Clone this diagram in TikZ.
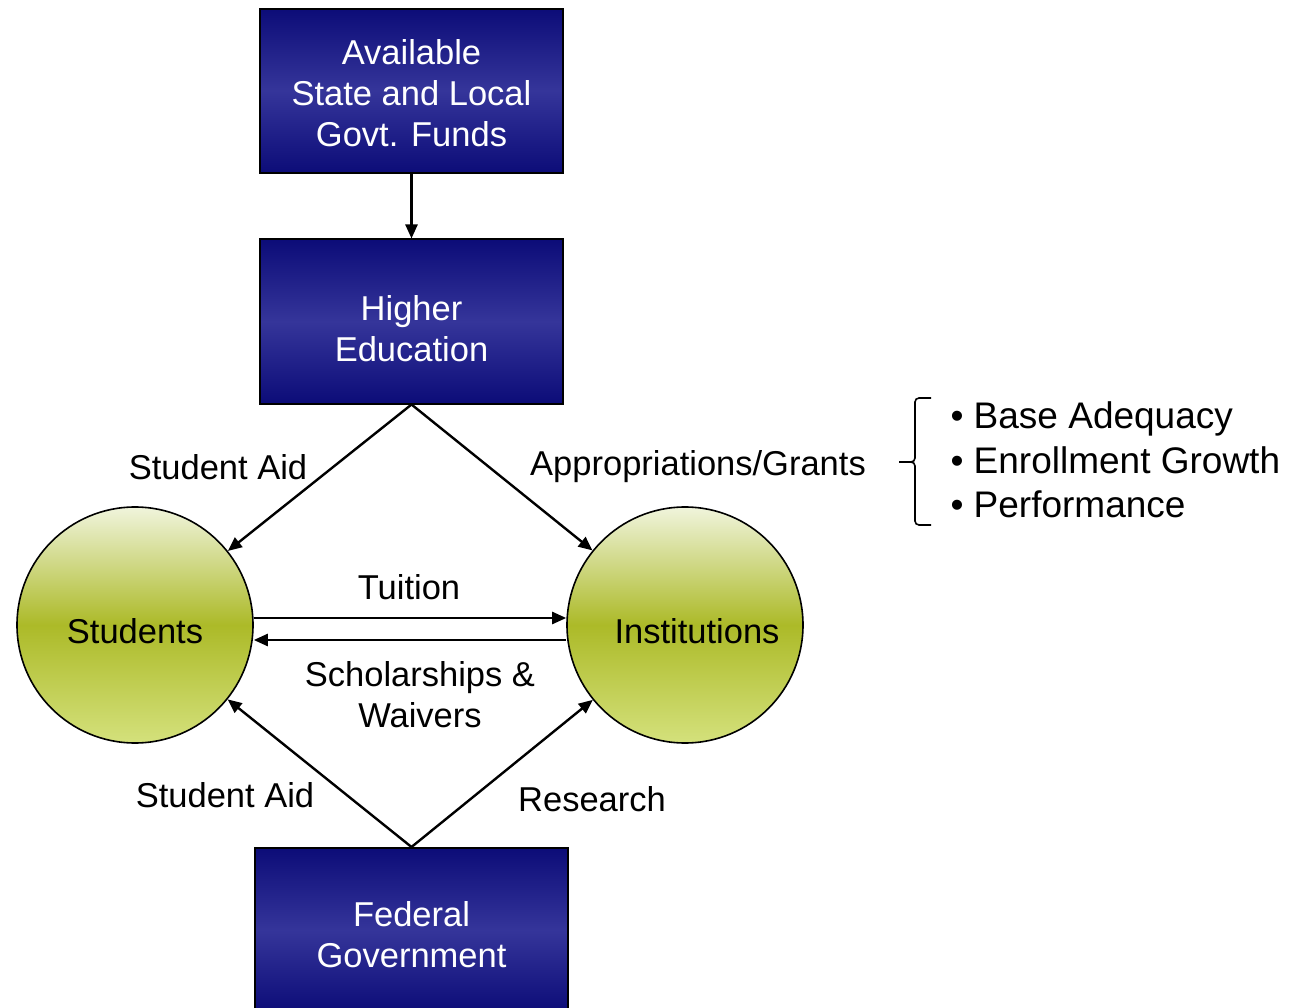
\documentclass[tikz,border=0pt]{standalone}
\usepackage{fontspec}
\setmainfont{Liberation Sans}
\usetikzlibrary{arrows.meta}

\definecolor{navydark}{HTML}{0C0C78}
\definecolor{navylight}{HTML}{35359A}
\definecolor{olivetop}{HTML}{F0F4DC}
\definecolor{olivemid}{HTML}{ACBA28}
\definecolor{olivebot}{HTML}{D4E17C}

\begin{document}
\begin{tikzpicture}[x=1pt,y=-1pt]
\tikzstyle{every node}+=[font=\fontsize{34.5}{41}\selectfont]
\tikzstyle{fundbox}=[draw=black,line width=2pt,rectangle,minimum width=303pt,minimum height=164pt,
  top color=navydark,bottom color=navydark,middle color=navylight,text=white,align=center,inner sep=0pt]
\tikzstyle{actor}=[draw=black,line width=1.6pt,circle,minimum size=236pt,inner sep=0pt,
  top color=olivetop,bottom color=olivebot,middle color=olivemid]
\tikzstyle{flow}=[line width=2.4pt,-{Triangle[length=14pt,width=12pt]}]
\useasboundingbox (0,0) rectangle (1299,1008);
% boxes
\node [fundbox] (state) at (411.5,91) {\\[-12pt]Available\\State and Local\\Govt. Funds};
\node [fundbox] (hied) at (411.5,321.5) {\\[-2pt]Higher\\ Education};
\node [fundbox,minimum width=313pt] (fed) at (411.5,930) {\\[-6pt]Federal\\Government};
% circles
\node [actor] (stud) at (135,625) {};
\node at (135,631) {Students};
\node [actor] (inst) at (685,625) {};
\node at (697,631) {Institutions};
% arrows
\draw [flow] (state.south) -- (hied.north);
\draw [flow] (hied.south) -- (stud);
\draw [flow] (hied.south) -- (inst);
\draw [flow] ([yshift=7pt]stud.east) -- ([yshift=7pt]inst.west);
\draw [flow] ([yshift=-15pt]inst.west) -- ([yshift=-15pt]stud.east);
\draw [flow] (fed.north) -- (stud);
\draw [flow] (fed.north) -- (inst);
% labels
\node (lblaid) at (218,467) {Student Aid};
\node (lblapp) at (698,467) {Appropriations/Grants};
\node (lbltui) at (409,587) {Tuition};
\node [align=center] (lblsch) at (420,695) {Scholarships \&\\Waivers};
\node (lblfaid) at (225,795) {Student Aid};
\node (lblres) at (592,799) {Research};
% brace and list
\draw [line width=1.6pt,rounded corners=4pt] (931,398) -- (915,398) -- (915,462) -- (899,462);
\draw [line width=1.6pt,rounded corners=4pt] (899,462) -- (915,462) -- (915,525) -- (931,525);
\node [anchor=west,font=\fontsize{37}{44.5}\selectfont,align=left] (list) at (947,460)
  {\textbullet\ Base Adequacy\\\textbullet\ Enrollment Growth\\\textbullet\ Performance};
\end{tikzpicture}
\end{document}
